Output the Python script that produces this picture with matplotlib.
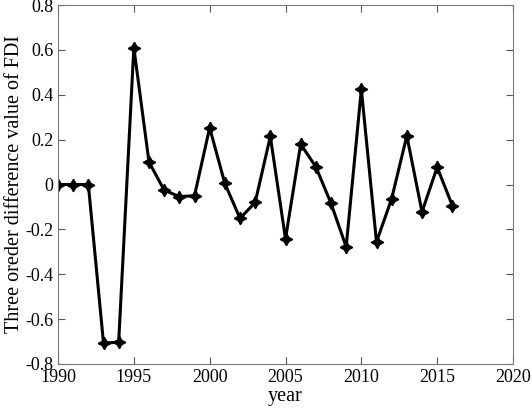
import matplotlib
matplotlib.use("Agg")
import matplotlib.pyplot as plt

years = list(range(1990, 2017))
values = [0, 0, 0, -0.707, -0.703, 0.61, 0.10, -0.025, -0.054, -0.05,
          0.253, 0.005, -0.151, -0.08, 0.214, -0.242, 0.18, 0.079, -0.084, -0.278,
          0.424, -0.256, -0.063, 0.217, -0.122, 0.077, -0.094]
xticks = [1990, 1995, 2000, 2005, 2010, 2015, 2020]
yticks = [-0.8, -0.6, -0.4, -0.2, 0, 0.2, 0.4, 0.6, 0.8]
ytick_labels = ["-0.8", "-0.6", "-0.4", "-0.2", "0", "0.2", "0.4", "0.6", "0.8"]

plt.rcParams['font.family'] = ['Liberation Serif', 'DejaVu Serif']
fig = plt.figure(figsize=(5.32, 4.09), dpi=100)
ax = fig.add_axes([58/532, 1 - 364/409, (513-58)/532, (364-5)/409])
ax.plot(years, values, color='black', linewidth=2.2,
        marker=(4, 1, 0), markersize=9, markerfacecolor='black', markeredgecolor='black')
ax.set_xlim(1990, 2020)
ax.set_ylim(-0.8, 0.8)
ax.set_xticks(xticks)
ax.set_yticks(yticks)
ax.set_yticklabels(ytick_labels)
ax.tick_params(direction='in', top=True, right=True, labelsize=13, length=5, color='#555555')
for s in ax.spines.values():
    s.set_color('#777777')
ax.set_xlabel('year', fontsize=14.5, labelpad=1)
ax.set_ylabel('Three oreder difference value of FDI', fontsize=14.5, labelpad=1)
fig.savefig('out.png', dpi=100)
